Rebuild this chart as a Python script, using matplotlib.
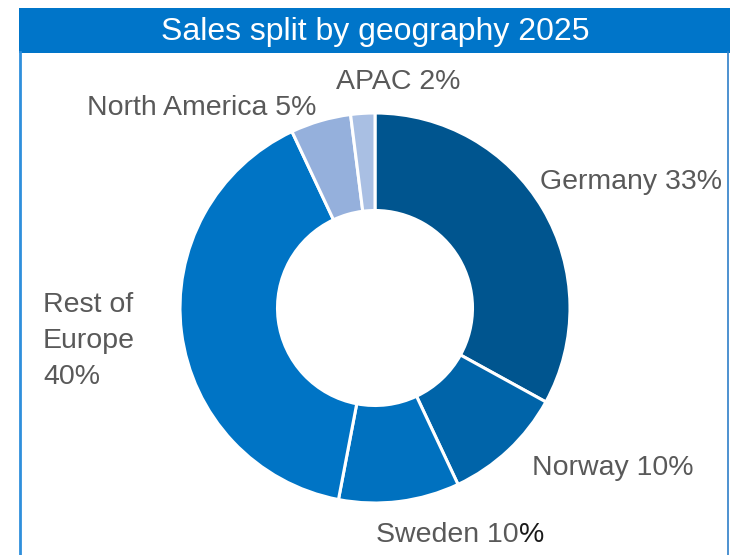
import matplotlib
matplotlib.use("Agg")
import matplotlib.pyplot as plt
from matplotlib.patches import Rectangle
from matplotlib.lines import Line2D

plt.rcParams['font.family'] = ['Liberation Sans', 'DejaVu Sans']

categories = ["Germany", "Norway", "Sweden", "Rest of Europe", "North America", "APAC"]
values = [33, 10, 10, 40, 5, 2]
colors = ["#00558f", "#0064a9", "#0071bf", "#0074c5", "#95b0dc", "#a9bfe3"]
label_texts = ["Germany 33%", "Norway 10%", "Sweden 10%", "Rest of\nEurope\n40%", "North America 5%", "APAC 2%"]
title = "Sales split by geography 2025"

W, H = 730, 555
fig = plt.figure(figsize=(W / 100, H / 100), dpi=100)
ax = fig.add_axes([0, 0, 1, 1])
ax.set_xlim(0, W)
ax.set_ylim(0, H)
ax.axis('off')

cx, cy, r = 375, H - 308, 195
ax.pie(values, colors=colors, startangle=90, counterclock=False,
       center=(cx, cy), radius=r,
       wedgeprops=dict(width=r * 0.5, edgecolor='white', linewidth=2.2))
ax.set_xlim(0, W)
ax.set_ylim(0, H)
ax.set_aspect('auto')

# label positions (pixel coords, image y from top)
label_pos = [(540, 182), (532, 468), (376, 535), (43, 341), (87, 108), (336, 82)]
texts = []
for txt, (x, y) in zip(label_texts, label_pos):
    t = ax.text(x, H - y, txt, ha='left', va='center', fontsize=20.5,
                color='#595959', linespacing=1.5)
    texts.append(t)

# the "%" of the Sweden label is drawn darker in the reference
fig.canvas.draw()
renderer = fig.canvas.get_renderer()
bb = texts[2].get_window_extent(renderer)
ax.text(bb.x1, H - label_pos[2][1], "%", ha='right', va='center',
        fontsize=20.5, color='#1a1a1a',
        transform=None if False else ax.transData)
# overwrite gray % underneath with white then black for crispness
texts[2].set_text("Sweden 10")

# title bar and frame
fig.patches.append(Rectangle((19 / W, (H - 53) / H), (730 - 19) / W, 45 / H,
                             transform=fig.transFigure, facecolor='#0075c9',
                             edgecolor='none'))
fig.text(375 / W, (H - 32) / H, title, ha='center', va='center',
         fontsize=23, color='white')
fig.lines.append(Line2D([19.5 / W, 19.5 / W], [0, (H - 52) / H],
                        transform=fig.transFigure, color='#2f8fdc', lw=2))
fig.lines.append(Line2D([728 / W, 728 / W], [0, (H - 52) / H],
                        transform=fig.transFigure, color='#2f7fc8', lw=1.2))

fig.savefig("out.png", dpi=100)
